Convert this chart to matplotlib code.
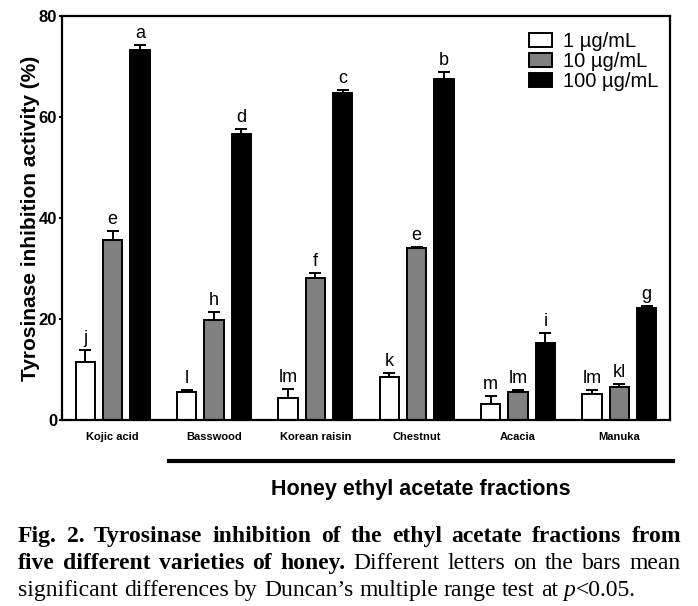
import numpy as np
import matplotlib
matplotlib.use('Agg')
import matplotlib.pyplot as plt
from matplotlib.patches import Patch

groups = ['Kojic acid', 'Basswood', 'Korean raisin', 'Chestnut', 'Acacia', 'Manuka']
conc_labels = ['1 µg/mL', '10 µg/mL', '100 µg/mL']

mean_1 = [11.5, 5.6, 4.4, 8.5, 3.2, 5.1]
mean_10 = [35.6, 19.8, 28.2, 34.0, 5.5, 6.5]
mean_100 = [73.3, 56.6, 64.8, 67.6, 15.3, 22.1]

err_1 = [2.4, 0.3, 1.7, 0.9, 1.6, 0.8]
err_10 = [1.8, 1.6, 1.0, 0.3, 0.4, 0.6]
err_100 = [1.0, 1.0, 0.6, 1.4, 2.0, 0.4]

letters_1 = ['j', 'l', 'lm', 'k', 'm', 'lm']
letters_10 = ['e', 'h', 'f', 'e', 'lm', 'kl']
letters_100 = ['a', 'd', 'c', 'b', 'i', 'g']

colors = ['white', '#808080', 'black']
sans = ['Liberation Sans', 'DejaVu Sans']
serif = ['Liberation Serif', 'DejaVu Serif']

fig = plt.figure(figsize=(6.98, 6.06), dpi=100)
W, H = 698, 606
ax = fig.add_axes([62 / W, (H - 420) / H, 608 / W, 404 / H])

x = np.arange(len(groups)) + 0.5
width = 0.19
offs = [-0.27, 0, 0.27]
means = [mean_1, mean_10, mean_100]
errs = [err_1, err_10, err_100]
lets = [letters_1, letters_10, letters_100]

for i in range(3):
    xs = x + offs[i]
    ax.bar(xs, means[i], width=width, color=colors[i], edgecolor='black',
           linewidth=1.4, zorder=2)
    ax.errorbar(xs, means[i], yerr=[np.zeros(len(groups)), errs[i]], fmt='none',
                ecolor='black', elinewidth=1.4, capsize=4, capthick=1.4, zorder=1)
    for xi, m, e, t in zip(xs, means[i], errs[i], lets[i]):
        ax.text(xi, m + e + 0.6, t, ha='center', va='bottom', fontsize=13,
                family=sans)

ax.set_xlim(0, 6)
ax.set_ylim(0, 80)
ax.set_yticks([0, 20, 40, 60, 80])
ax.set_yticklabels(['0', '20', '40', '60', '80'], fontsize=12,
                   fontweight='bold', family=sans)
ax.set_xticks(x)
ax.set_xticklabels(groups, fontsize=8, fontweight='bold', family=sans)
ax.tick_params(axis='x', length=0, pad=9)
ax.tick_params(axis='y', length=2.5, width=1.4, pad=1)
for s in ax.spines.values():
    s.set_linewidth(1.6)
ax.set_ylabel('Tyrosinase inhibition activity (%)', fontsize=15,
              fontweight='bold', family=sans)
ax.yaxis.set_label_coords(-0.037, 0.5)

handles = [Patch(facecolor=c, edgecolor='black', linewidth=1.4) for c in colors]
leg = ax.legend(handles, conc_labels, loc='upper right', frameon=False,
                prop={'family': sans, 'size': 14.5}, handlelength=1.15,
                handleheight=0.7, handletextpad=0.5, labelspacing=0.05,
                bbox_to_anchor=(1.0, 0.99), borderaxespad=0.2)

# bracket line and group title
fig.add_artist(plt.Line2D([169 / W, 673 / W], [1 - 461 / H, 1 - 461 / H],
                          color='black', linewidth=3))
fig.text(421 / W, 1 - 489 / H, 'Honey ethyl acetate fractions', ha='center',
         va='center', fontsize=15.5, fontweight='bold', family=sans)

# caption, justified word by word
fig.canvas.draw()
renderer = fig.canvas.get_renderer()


def draw_line(words, y, left, right, justify=True, size=17):
    arts = []
    for w, style in words:
        kw = dict(fontsize=size, family=serif, va='baseline', ha='left')
        if style == 'b':
            kw['fontweight'] = 'bold'
        if style == 'i':
            kw['fontstyle'] = 'italic'
        arts.append(fig.text(0, 1 - y / H, w, **kw))
    widths = [a.get_window_extent(renderer).width for a in arts]
    t1 = fig.text(0, 0, 'a b', fontsize=size, family=serif)
    t2 = fig.text(0, 0, 'ab', fontsize=size, family=serif)
    sp = t1.get_window_extent(renderer).width - t2.get_window_extent(renderer).width
    t1.remove()
    t2.remove()
    gaps = [0 if words[k][0] == 'p' else sp for k in range(len(words) - 1)]
    if justify:
        n_real = sum(1 for g in gaps if g > 0)
        extra = (right - left) - sum(widths) - sum(gaps)
        gaps = [g + extra / n_real if g > 0 else g for g in gaps]
    pos = left
    for k, a in enumerate(arts):
        a.set_x(pos / W)
        pos += widths[k] + (gaps[k] if k < len(gaps) else 0)


line1 = [(w, 'b') for w in 'Fig. 2. Tyrosinase inhibition of the ethyl acetate fractions from'.split()]
line2 = [(w, 'b') for w in 'five different varieties of honey.'.split()] + \
        [(w, 'r') for w in 'Different letters on the bars mean'.split()]
line3 = [(w, 'r') for w in "significant differences by Duncan’s multiple range test at".split()] + \
        [('p', 'i'), ('<0.05.', 'r')]
draw_line(line1, 542, 18, 681)
draw_line(line2, 569, 18, 681)
draw_line(line3, 596, 18, 681, justify=False)

fig.savefig('out.png', dpi=100)
